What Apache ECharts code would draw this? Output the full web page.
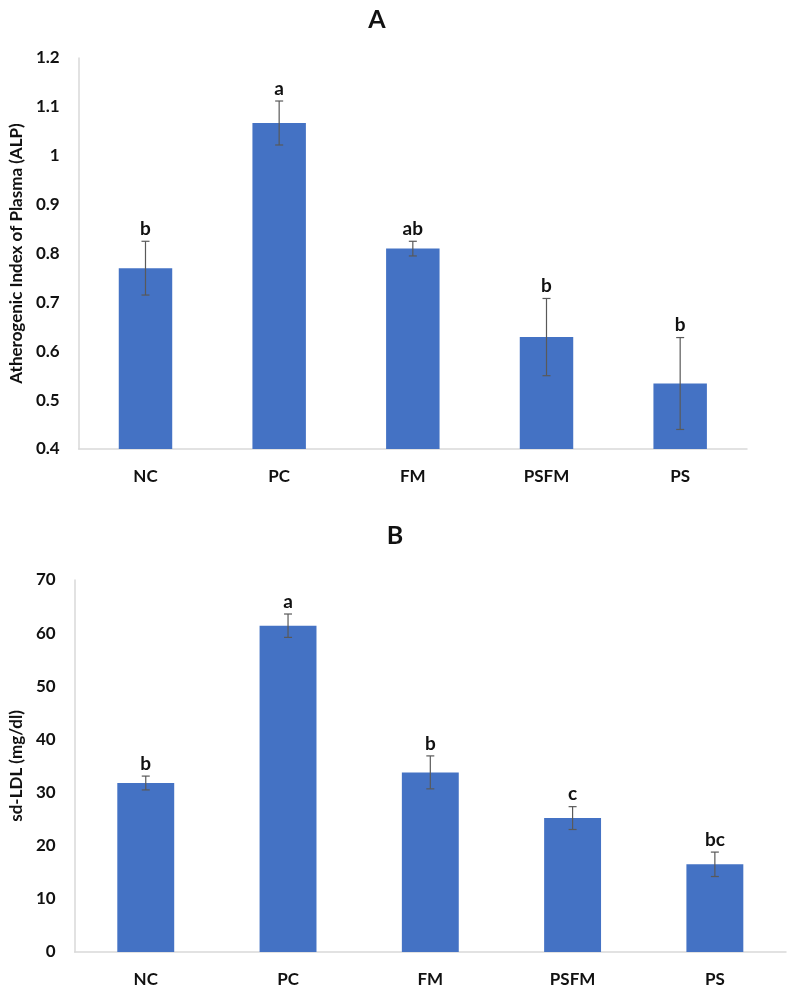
<!DOCTYPE html>
<html>
<head>
<meta charset="utf-8">
<script src="https://cdn.jsdelivr.net/npm/echarts@6/dist/echarts.min.js"></script>
<style>
html,body{margin:0;padding:0;background:#fff;}
#chart{width:790px;height:989px;}
</style>
</head>
<body>
<div id="chart"></div>
<script>
const categories = ['NC', 'PC', 'FM', 'PSFM', 'PS'];
const aipMean = [0.77, 1.067, 0.81, 0.629, 0.534];
const aipErr = [0.055, 0.045, 0.015, 0.079, 0.094];
const aipLetters = ['b', 'a', 'ab', 'b', 'b'];
const aipTicks = { min: 0.4, max: 1.2, interval: 0.1 };

const ldlMean = [31.8, 61.4, 33.8, 25.2, 16.5];
const ldlErr = [1.3, 2.2, 3.1, 2.15, 2.3];
const ldlLetters = ['b', 'a', 'b', 'c', 'bc'];
const ldlTicks = { min: 0, max: 70, interval: 10 };

const FONT = 'Lato, "Open Sans", sans-serif';
const BAR = '#4472C4';
const AXIS = '#d9d9d9';
const ERR = '#595959';
const TXT = '#111';

function errRenderer(letters) {
  return function (params, api) {
    const x = api.value(0), m = api.value(1), e = api.value(2);
    const top = api.coord([x, m + e]);
    const bot = api.coord([x, m - e]);
    const hw = 4;
    return {
      type: 'group',
      children: [
        { type: 'line', shape: { x1: top[0], y1: top[1], x2: bot[0], y2: bot[1] }, style: { stroke: ERR, lineWidth: 1.2 } },
        { type: 'line', shape: { x1: top[0] - hw, y1: top[1], x2: top[0] + hw, y2: top[1] }, style: { stroke: ERR, lineWidth: 1.2 } },
        { type: 'line', shape: { x1: bot[0] - hw, y1: bot[1], x2: bot[0] + hw, y2: bot[1] }, style: { stroke: ERR, lineWidth: 1.2 } },
        { type: 'text', x: top[0], y: top[1] - 3, style: { text: letters[params.dataIndex], align: 'center', verticalAlign: 'bottom', font: 'bold 19px ' + FONT, fill: TXT } }
      ]
    };
  };
}

const chart = echarts.init(document.getElementById('chart'), null, { renderer: 'canvas' });

const axisLabelStyle = { color: TXT, fontWeight: 'bold', fontSize: 17, fontFamily: FONT };

chart.setOption({
  animation: false,
  backgroundColor: '#fff',
  title: [
    { text: 'A', left: 372, top: 2, textAlign: 'center', textStyle: { fontSize: 25, fontWeight: 'bold', fontFamily: FONT, color: TXT } },
    { text: 'B', left: 390, top: 518, textAlign: 'center', textStyle: { fontSize: 25, fontWeight: 'bold', fontFamily: FONT, color: TXT } }
  ],
  grid: [
    { left: 75, right: 43, top: 58, bottom: 540 },
    { left: 70, right: 4, top: 580, bottom: 37 }
  ],
  xAxis: [
    { type: 'category', gridIndex: 0, data: categories, axisLine: { lineStyle: { color: AXIS, width: 1.5 } }, axisTick: { show: false }, axisLabel: Object.assign({ margin: 19 }, axisLabelStyle) },
    { type: 'category', gridIndex: 1, data: categories, axisLine: { lineStyle: { color: AXIS, width: 1.5 } }, axisTick: { show: false }, axisLabel: Object.assign({ margin: 19 }, axisLabelStyle) }
  ],
  yAxis: [
    {
      type: 'value', gridIndex: 0, min: aipTicks.min, max: aipTicks.max, interval: aipTicks.interval,
      name: 'Atherogenic Index of Plasma (ALP)', nameLocation: 'middle', nameGap: 53,
      nameTextStyle: { fontSize: 17, fontWeight: 'bold', fontFamily: FONT, color: TXT },
      axisLine: { show: true, lineStyle: { color: AXIS, width: 1.5 } }, axisTick: { show: false }, splitLine: { show: false },
      axisLabel: Object.assign({ margin: 19, formatter: v => String(+v.toFixed(1)) }, axisLabelStyle)
    },
    {
      type: 'value', gridIndex: 1, min: ldlTicks.min, max: ldlTicks.max, interval: ldlTicks.interval,
      name: 'sd-LDL (mg/dl)', nameLocation: 'middle', nameGap: 45,
      nameTextStyle: { fontSize: 17, fontWeight: 'bold', fontFamily: FONT, color: TXT },
      axisLine: { show: true, lineStyle: { color: AXIS, width: 1.5 } }, axisTick: { show: false }, splitLine: { show: false },
      axisLabel: Object.assign({ margin: 19 }, axisLabelStyle)
    }
  ],
  series: [
    { type: 'bar', xAxisIndex: 0, yAxisIndex: 0, data: aipMean, barWidth: '40%', itemStyle: { color: BAR } },
    { type: 'custom', xAxisIndex: 0, yAxisIndex: 0, data: aipMean.map((m, i) => [i, m, aipErr[i]]), renderItem: errRenderer(aipLetters), z: 5 },
    { type: 'bar', xAxisIndex: 1, yAxisIndex: 1, data: ldlMean, barWidth: '40%', itemStyle: { color: BAR } },
    { type: 'custom', xAxisIndex: 1, yAxisIndex: 1, data: ldlMean.map((m, i) => [i, m, ldlErr[i]]), renderItem: errRenderer(ldlLetters), z: 5 }
  ]
});
</script>
</body>
</html>
